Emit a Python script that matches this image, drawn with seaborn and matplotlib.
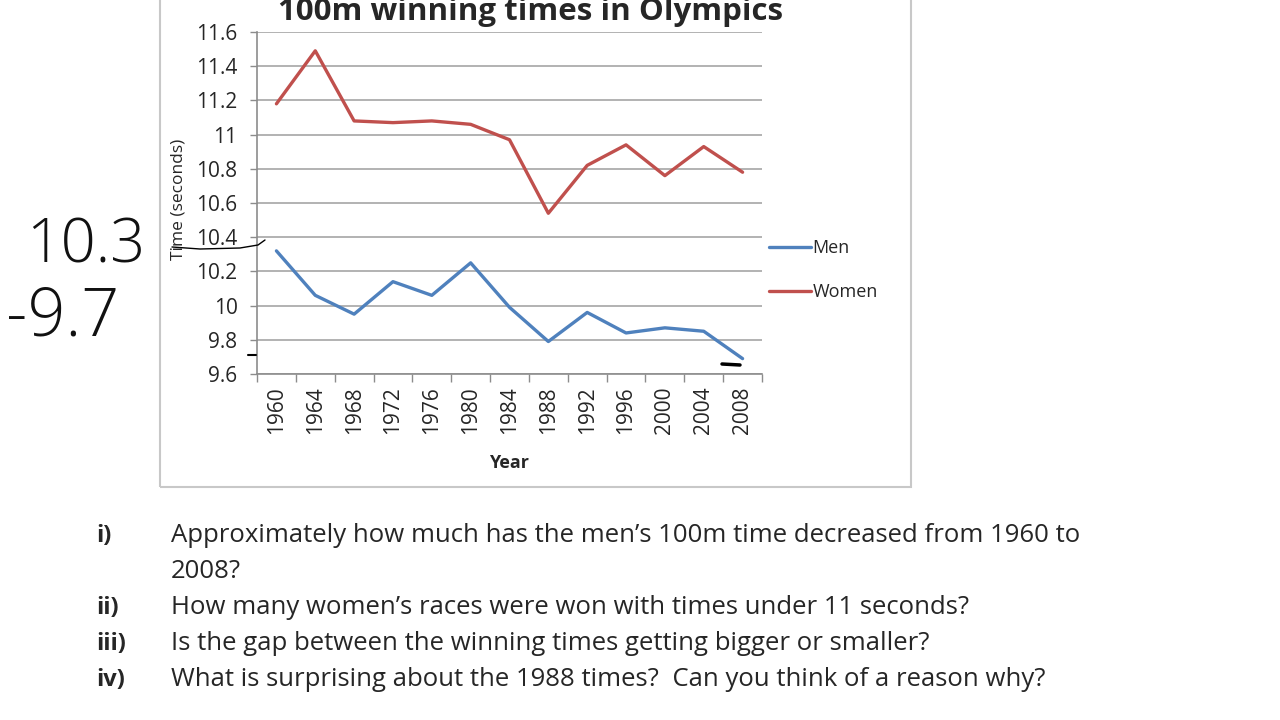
import numpy as np
import pandas as pd
import matplotlib
matplotlib.use("Agg")
import matplotlib.pyplot as plt
from matplotlib.patches import Rectangle
from matplotlib.lines import Line2D
from matplotlib.ticker import FuncFormatter, MultipleLocator
import seaborn as sns

# ============================================================
# DADOS
# ============================================================
anos = [1960, 1964, 1968, 1972, 1976, 1980, 1984, 1988, 1992, 1996, 2000, 2004, 2008]
tempos_homens = [10.32, 10.06, 9.95, 10.14, 10.06, 10.25, 9.99, 9.79, 9.96, 9.84, 9.87, 9.85, 9.69]
tempos_mulheres = [11.18, 11.49, 11.08, 11.07, 11.08, 11.06, 10.97, 10.54, 10.82, 10.94, 10.76, 10.93, 10.78]
series = ["Men", "Women"]
cores = ["#4F81BD", "#C0504D"]

titulo = "100m winning times in Olympics"
perguntas = [
    ("i)", "Approximately how much has the men\u2019s 100m time decreased from 1960 to"),
    ("", "2008?"),
    ("ii)", "How many women\u2019s races were won with times under 11 seconds?"),
    ("iii)", "Is the gap between the winning times getting bigger or smaller?"),
    ("iv)", "What is surprising about the 1988 times?  Can you think of a reason why?"),
]
anotacoes = ["10.3", "-9.7"]

df = pd.DataFrame({
    "Year": anos * 2,
    "Time": tempos_homens + tempos_mulheres,
    "Serie": [series[0]] * len(anos) + [series[1]] * len(anos),
})

# ============================================================
# FIGURA
# ============================================================
sns.set_theme(style="white")
plt.rcParams["font.family"] = ["Open Sans", "DejaVu Sans"]

fig = plt.figure(figsize=(12.8, 7.2), dpi=100)
fig.patch.set_facecolor("white")

# moldura do gráfico (estilo Excel)
fig.patches.append(Rectangle((160 / 1280, 1 - 487 / 720), 751 / 1280, 500 / 720,
                             transform=fig.transFigure, fill=False,
                             edgecolor="#c8c8c8", linewidth=1.5, zorder=0))

ax = fig.add_axes([257 / 1280, 1 - 374 / 720, 505 / 1280, 342 / 720])
sns.lineplot(data=df, x="Year", y="Time", hue="Serie", palette=cores,
             linewidth=2.4, ax=ax, legend=False)

ax.set_xlim(1958, 2010)
ax.set_ylim(9.6, 11.6)
ax.yaxis.set_major_locator(MultipleLocator(0.2))
ax.yaxis.set_major_formatter(FuncFormatter(lambda v, p: f"{v:.1f}".rstrip("0").rstrip(".")))
ax.set_xticks(anos)
ax.set_xticklabels([str(a) for a in anos], rotation=90)
ax.set_xticks([a - 2 for a in anos] + [anos[-1] + 2], minor=True)
ax.tick_params(axis="x", which="major", length=0, pad=9, labelsize=15)
ax.tick_params(axis="x", which="minor", length=6, color="#8c8c8c", width=1, bottom=True)
ax.tick_params(axis="y", length=5, color="#8c8c8c", width=1, left=True, labelsize=15, pad=9)
ax.grid(axis="y", color="#a6a6a6", linewidth=1.2)
ax.set_axisbelow(True)
for lado in ["top", "right"]:
    ax.spines[lado].set_visible(False)
for lado in ["left", "bottom"]:
    ax.spines[lado].set_color("#8c8c8c")
    ax.spines[lado].set_linewidth(1.2)

ax.set_xlabel("Year", fontsize=13, fontweight="bold", labelpad=14)
ax.set_ylabel("Time (seconds)", fontsize=12.5)
ax.yaxis.set_label_coords(-0.14, 0.51)

fig.text(531 / 1280, 1 - 20 / 720, titulo, ha="center", va="baseline",
         fontsize=22.5, fontweight="bold")

handles = [Line2D([0], [0], color=c, linewidth=2.4) for c in cores]
fig.legend(handles, series, loc="upper left",
           bbox_to_anchor=(753 / 1280, 1 - 223 / 720), frameon=False,
           fontsize=13, handlelength=2.3, handletextpad=0.1, labelspacing=1.45)

# anotações manuscritas
fig.text(26 / 1280, 1 - 247 / 720, anotacoes[0], fontsize=44, color="#111111",
         ha="left", va="center", family=["Open Sans", "DejaVu Sans"], fontweight="light")
fig.text(6 / 1280, 1 - 318 / 720, anotacoes[1], fontsize=48, color="#111111",
         ha="left", va="center", family=["Open Sans", "DejaVu Sans"], fontweight="light")
fig.add_artist(Line2D(np.array([172, 200, 240, 258, 265]) / 1280,
                      1 - np.array([247, 249, 248, 245, 240]) / 720,
                      transform=fig.transFigure, color="black", linewidth=1))
fig.add_artist(Line2D(np.array([248, 256]) / 1280, 1 - np.array([355, 355]) / 720,
                      transform=fig.transFigure, color="black", linewidth=1.5))
fig.add_artist(Line2D(np.array([722, 740]) / 1280, 1 - np.array([364, 365]) / 720,
                      transform=fig.transFigure, color="black", linewidth=2.5))

# perguntas
ys = [536, 572, 608, 644, 680]
for (num, txt), y in zip(perguntas, ys):
    fig.text(96 / 1280, 1 - y / 720, num, fontsize=17, fontweight="bold",
             ha="left", va="center")
    fig.text(171 / 1280, 1 - y / 720, txt, fontsize=18.5,
             ha="left", va="center")

fig.savefig("out.png", dpi=100)
